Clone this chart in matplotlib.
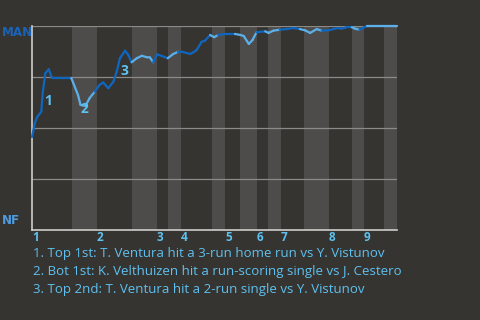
import matplotlib
matplotlib.use("Agg")
import matplotlib.pyplot as plt
import numpy as np

# inning boundaries, in plate-appearance units along the x axis
top_starts = [0, 17.8, 34.2, 40.8, 52.9, 61.6, 68.2, 81.4, 90.9]
bot_starts = [11.0, 27.4, 37.3, 49.3, 57.0, 64.7, 74.5, 87.7, 96.4]
game_end = 100
inning_labels = ["1", "2", "3", "4", "5", "6", "7", "8", "9"]

# win probability for MAN after each event
wp_x = [0, 0.8, 1.45, 2.55, 2.93, 3.64, 4.58, 5.48, 10.77, 12.6, 13.3, 14.6,
        15.8, 17.2, 18.5, 19.5, 20.9, 22.3, 23.2, 24.1, 25.5, 26.4, 27.3,
        28.7, 30.1, 31.4, 32.3, 33.2, 34.3, 36.0, 37.2, 38.7, 40.1, 41.0,
        43.3, 44.2, 45.1, 46.5, 47.4, 48.8, 49.9, 51.0, 53.0, 55.6, 57.1,
        58.0, 59.4, 60.4, 61.5, 63.9, 64.8, 66.1, 67.9, 69.8, 71.6, 73.4,
        74.8, 76.2, 78.0, 79.4, 81.5, 83.0, 83.9, 84.8, 86.2, 87.6, 88.5,
        89.7, 91.0, 91.7, 96.4, 99.7, 100]
wp_y = [0.456, 0.525, 0.555, 0.580, 0.672, 0.768, 0.788, 0.745, 0.745, 0.662,
        0.613, 0.608, 0.647, 0.678, 0.711, 0.723, 0.695, 0.727, 0.776, 0.842,
        0.879, 0.858, 0.822, 0.842, 0.854, 0.847, 0.846, 0.822, 0.861, 0.850,
        0.842, 0.863, 0.874, 0.874, 0.863, 0.871, 0.882, 0.923, 0.928, 0.956,
        0.945, 0.956, 0.961, 0.961, 0.956, 0.951, 0.912, 0.931, 0.969, 0.974,
        0.966, 0.977, 0.982, 0.985, 0.990, 0.985, 0.979, 0.966, 0.985, 0.977,
        0.980, 0.987, 0.990, 0.987, 0.994, 0.994, 0.987, 0.982, 0.994, 0.999,
        0.999, 0.999, 1.0]

# key plays
event_x = [3.0, 14.6, 24.1]
event_text = [
    "1. Top 1st: T. Ventura hit a 3-run home run vs Y. Vistunov",
    "2. Bot 1st: K. Velthuizen hit a run-scoring single vs J. Cestero",
    "3. Top 2nd: T. Ventura hit a 2-run single vs Y. Vistunov",
]

BG = "#363431"
BAND = "#4e4c4a"
GRID = "#8c8a87"
AXIS = "#cfcdca"
DARK = "#0f66bf"
LIGHT = "#5cb0ea"
TEXT = "#5ec1f0"

plt.rcParams["font.family"] = ["Open Sans", "DejaVu Sans"]

fig = plt.figure(figsize=(4.8, 3.2), dpi=100, facecolor=BG)
ax = fig.add_axes([32 / 480, 90 / 320, 365 / 480, 204 / 320])
ax.set_facecolor(BG)
ax.set_xlim(0, game_end)
ax.set_ylim(0, 1)

for b, e in zip(bot_starts, top_starts[1:] + [game_end]):
    ax.axvspan(b, e, color=BAND, lw=0, zorder=0)

for yv in [0.25, 0.5, 0.75, 1.0]:
    ax.axhline(yv, color=GRID, lw=0.9, zorder=1)

# colour each segment by the half inning it ends in
bounds = np.sort(np.array(top_starts + bot_starts))
xs = np.array(wp_x)
ys = np.array(wp_y)
for i in range(1, len(xs)):
    k = np.searchsorted(bounds, xs[i], side="right") - 1
    col = DARK if bounds[k] in top_starts else LIGHT
    ax.plot(xs[i - 1:i + 1], ys[i - 1:i + 1], color=col, lw=1.6,
            solid_capstyle="round", zorder=3, clip_on=False)

offsets = [(3.6, -7), (-0.3, -2), (3, -9.5)]
for n, (ex, off) in enumerate(zip(event_x, offsets), start=1):
    ey = np.interp(ex, xs, ys)
    ax.annotate(str(n), (ex, ey), xytext=off, textcoords="offset points",
                ha="center", va="center", color=TEXT, fontsize=10,
                fontweight="bold", zorder=4)

for s in ["top", "right"]:
    ax.spines[s].set_visible(False)
for s in ["left", "bottom"]:
    ax.spines[s].set_color(AXIS)
    ax.spines[s].set_linewidth(1.2)
ax.set_yticks([])
ax.set_xticks(top_starts)
ax.set_xticklabels(inning_labels, ha="left", color=TEXT, fontsize=8.5,
                   fontweight="bold")
ax.tick_params(axis="x", length=0, pad=1)

fig.text(2 / 480, 1 - 33 / 320, "MAN", ha="left", va="center", color="#1b63b5",
         fontsize=9.5, fontweight="bold", family="DejaVu Sans",
         fontstretch="condensed")
fig.text(2 / 480, 1 - 221 / 320, "NF", ha="left", va="center", color="#4d9be0",
         fontsize=9.5, fontweight="bold", family="DejaVu Sans",
         fontstretch="condensed")

for i, t in enumerate(event_text):
    fig.text(33 / 480, 1 - (254 + 18 * i) / 320, t, ha="left", va="center",
             color=TEXT, fontsize=9.5)

fig.savefig("out.png", dpi=100, facecolor=BG)
